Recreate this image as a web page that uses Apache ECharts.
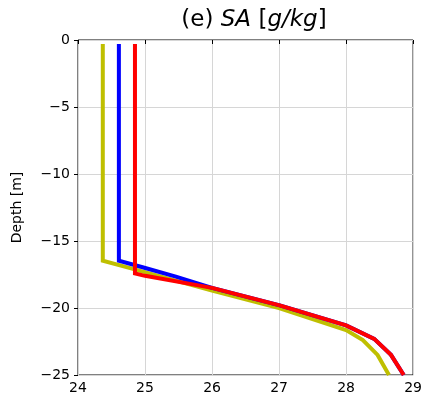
<!DOCTYPE html>
<html><head><meta charset="utf-8">
<script src="https://cdn.jsdelivr.net/npm/echarts@6/dist/echarts.min.js"></script>
<style>html,body{margin:0;padding:0;background:#fff}#c{width:425px;height:401px}</style>
</head><body><div id="c"></div>
<script>
const xTicks = [24, 25, 26, 27, 28, 29];
const yTicks = [0, -5, -10, -15, -20, -25];
const yellowSA = [24.37, 24.37, 24.82, 26.0, 27.0, 28.0, 28.25, 28.47, 28.64];
const yellowDepth = [-0.3, -16.47, -17.08, -18.7, -20.0, -21.64, -22.4, -23.5, -25];
const blueSA = [24.61, 24.61, 24.99, 25.46, 26.0, 27.01, 28.0, 28.42, 28.67, 28.86];
const blueDepth = [-0.3, -16.47, -17.0, -17.66, -18.5, -19.8, -21.3, -22.3, -23.5, -25];
const redSA = [24.85, 24.85, 25.0, 26.0, 27.01, 28.0, 28.42, 28.67, 28.86];
const redDepth = [-0.3, -17.42, -17.6, -18.5, -19.8, -21.3, -22.3, -23.5, -25];

const pair = (xs, ys) => xs.map((x, i) => [x, ys[i]]);
const fmt = v => (v < 0 ? '\u2212' + Math.abs(v) : String(v));
const ff = 'DejaVu Sans';
const chart = echarts.init(document.getElementById('c'), null, {renderer: 'canvas'});
const mk = (name, color, xs, ys) => ({
  name, type: 'line', data: pair(xs, ys), showSymbol: false, symbol: 'none',
  lineStyle: {color, width: 4, join: 'miter'}, itemStyle: {color}, animation: false
});
chart.setOption({
  animation: false,
  title: {
    text: '{n|(e) }{i|SA}{n| [}{i|g/kg}{n|]}',
    left: 249, top: 4, textAlign: 'center',
    textStyle: {fontWeight: 'normal', rich: {
      n: {fontFamily: ff, fontSize: 23, fontWeight: 'normal', color: '#000'},
      i: {fontFamily: ff, fontSize: 23, fontWeight: 'normal', fontStyle: 'italic', color: '#000'}
    }}
  },
  grid: {left: 78, right: 9, top: 40, bottom: 26, show: true, borderColor: '#000', borderWidth: 1},
  xAxis: {
    type: 'value', min: 24, max: 29, interval: 1,
    axisLine: {show: false},
    axisTick: {show: true, length: 4, lineStyle: {color: '#000'}},
    axisLabel: {fontFamily: ff, fontSize: 14, color: '#000', margin: 6, formatter: fmt},
    splitLine: {show: true, lineStyle: {color: '#d6d6d6', width: 1}}
  },
  yAxis: {
    type: 'value', min: -25, max: 0, interval: 5,
    name: 'Depth [m]', nameLocation: 'middle', nameGap: 54, nameRotate: 90,
    nameTextStyle: {fontFamily: ff, fontSize: 14, color: '#000'},
    axisLine: {show: false},
    axisTick: {show: true, length: 4, lineStyle: {color: '#000'}},
    axisLabel: {fontFamily: ff, fontSize: 14, color: '#000', margin: 8, formatter: fmt},
    splitLine: {show: true, lineStyle: {color: '#d6d6d6', width: 1}}
  },
  series: [
    mk('yellow', '#bfbf00', yellowSA, yellowDepth),
    mk('blue', '#0000ff', blueSA, blueDepth),
    mk('red', '#ff0000', redSA, redDepth)
  ]
});
</script></body></html>
